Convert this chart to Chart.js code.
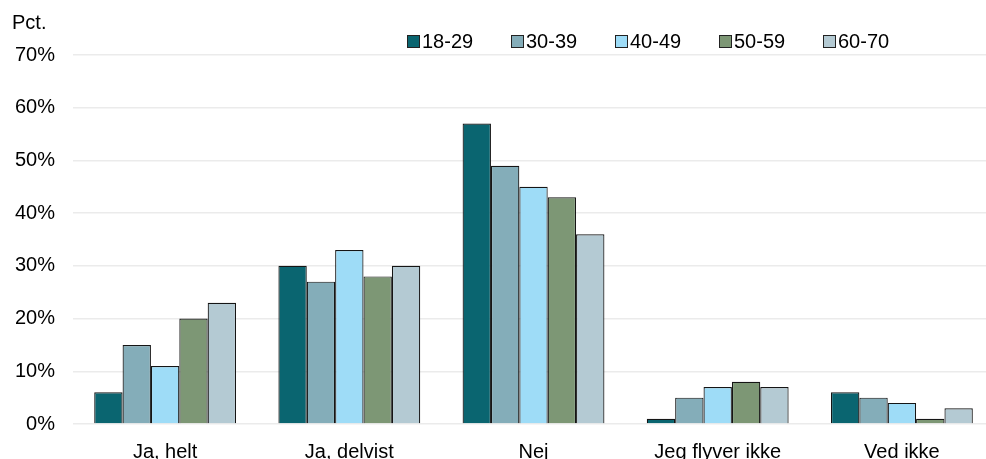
<!DOCTYPE html>
<html>
<head>
<meta charset="utf-8">
<script src="https://cdn.jsdelivr.net/npm/chart.js@4/dist/chart.umd.min.js"></script>
<style>
html,body{margin:0;padding:0;background:#fff;overflow:hidden;width:986px;height:459px;}
#wrap{position:absolute;left:-3px;top:0;width:997px;height:480px;}
#pct{position:absolute;left:12px;top:11px;font:20px "Liberation Sans",Arial,sans-serif;color:#000;}
#legend{position:absolute;left:407px;top:30px;display:flex;font:20px "Liberation Sans",Arial,sans-serif;color:#000;}
#legend .it{display:flex;align-items:center;width:104px;}
#legend .sw{width:11px;height:11px;border:1px solid #222;margin-right:2px;box-sizing:content-box;}
</style>
</head>
<body>
<div id="wrap"><canvas id="c"></canvas></div>
<div id="pct">Pct.</div>
<div id="legend"></div>
<script>
const categories = ["Ja, helt", "Ja, delvist", "Nej", "Jeg flyver ikke", "Ved ikke"];
const seriesNames = ["18-29", "30-39", "40-49", "50-59", "60-70"];
const s18_29 = [6, 30, 57, 1, 6];
const s30_39 = [15, 27, 49, 5, 5];
const s40_49 = [11, 33, 45, 7, 4];
const s50_59 = [20, 28, 43, 8, 1];
const s60_70 = [23, 30, 36, 7, 3];
const yTicks = [0, 10, 20, 30, 40, 50, 60, 70];
const colors = ["#0a6570", "#84adb9", "#9edcf7", "#7d9775", "#b4cad3"];
const seriesValues = [s18_29, s30_39, s40_49, s50_59, s60_70];

const leg = document.getElementById('legend');
seriesNames.forEach((n, i) => {
  const it = document.createElement('div'); it.className = 'it';
  const sw = document.createElement('div'); sw.className = 'sw'; sw.style.background = colors[i];
  const t = document.createElement('span'); t.textContent = n;
  it.appendChild(sw); it.appendChild(t); leg.appendChild(it);
});

const canvas = document.getElementById('c');
canvas.width = 997; canvas.height = 480;
const fontFam = '"Liberation Sans", Arial, sans-serif';
new Chart(canvas, {
  type: 'bar',
  data: {
    labels: categories,
    datasets: seriesNames.map((n, i) => ({
      label: n,
      data: seriesValues[i],
      backgroundColor: colors[i],
      borderColor: '#151515',
      borderWidth: 1.2,
      barPercentage: 1,
      categoryPercentage: 0.77
    }))
  },
  options: {
    responsive: false,
    animation: false,
    devicePixelRatio: 1,
    layout: { padding: { top: 55, right: 0, left: 0, bottom: 0 } },
    plugins: { legend: { display: false }, tooltip: { enabled: false } },
    scales: {
      x: {
        grid: { display: false, drawTicks: false },
        border: { display: false },
        ticks: { color: '#000', font: { family: fontFam, size: 20 }, padding: 16, maxRotation: 0 }
      },
      y: {
        min: 0, max: 70,
        afterBuildTicks: (ax) => { ax.ticks = yTicks.map(v => ({ value: v })); },
        grid: { color: '#ebebeb', lineWidth: 1.5, drawTicks: false },
        border: { display: false },
        ticks: { color: '#000', font: { family: fontFam, size: 20 }, padding: 18, callback: v => v + '%' }
      }
    }
  }
});
</script>
</body>
</html>
